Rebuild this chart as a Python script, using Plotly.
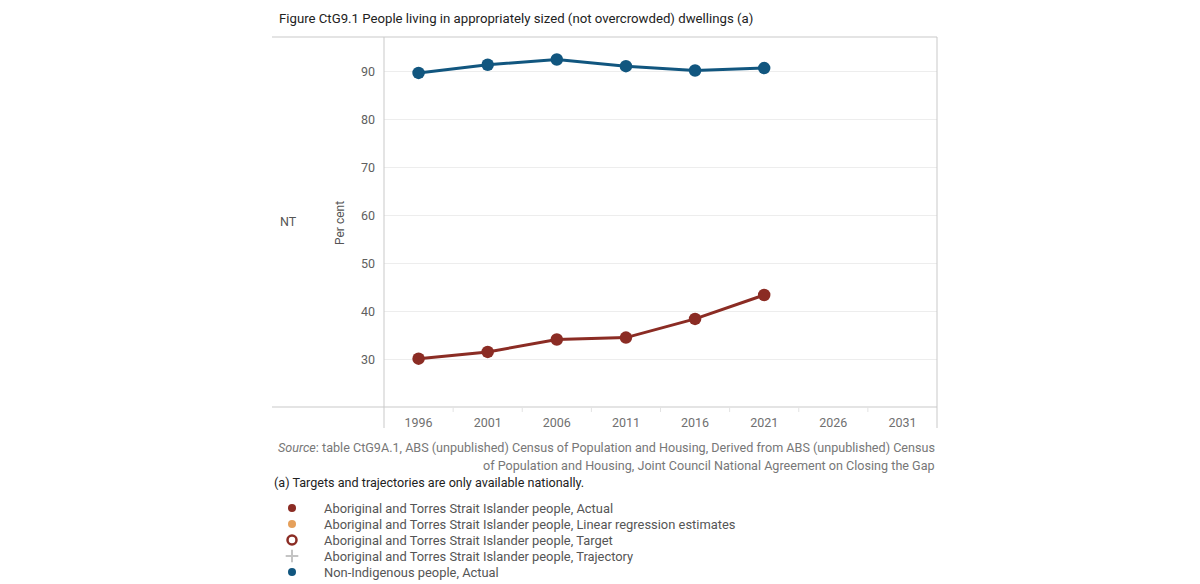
import plotly.graph_objects as go

# ---------------- data ----------------
years = [1996, 2001, 2006, 2011, 2016, 2021]
indigenous_actual = [30.1, 31.5, 34.1, 34.5, 38.4, 43.4]
non_indigenous_actual = [89.8, 91.5, 92.6, 91.2, 90.3, 90.8]
x_tick_years = [1996, 2001, 2006, 2011, 2016, 2021, 2026, 2031]
y_tick_values = [30, 40, 50, 60, 70, 80, 90]

legend_labels = [
    "Aboriginal and Torres Strait Islander people, Actual",
    "Aboriginal and Torres Strait Islander people, Linear regression estimates",
    "Aboriginal and Torres Strait Islander people, Target",
    "Aboriginal and Torres Strait Islander people, Trajectory",
    "Non-Indigenous people, Actual",
]

title_text = "Figure CtG9.1 People living in appropriately sized (not overcrowded) dwellings (a)"
source_line1 = "<i>Source</i>: table CtG9A.1, ABS (unpublished) Census of Population and Housing, Derived from ABS (unpublished) Census"
source_line2 = "of Population and Housing, Joint Council National Agreement on Closing the Gap"
note_text = "(a) Targets and trajectories are only available nationally."

# ---------------- styles ----------------
RED = "#8b2c24"
BLUE = "#11567f"
ORANGE = "#e5a05b"
GREY_PLUS = "#c4c4c4"
AXIS = "#c9c9c9"
GRID = "#ededed"
FONT = "Roboto"

legend_colors = [RED, ORANGE, RED, GREY_PLUS, BLUE]
legend_symbols = ["circle", "circle", "circle-open", "cross-thin", "circle"]

W, H = 1200, 584
def px(x):
    return x / W
def py(y):
    return (H - y) / H

left, right, top, bottom = 384, 937, 37, 407

fig = go.Figure()

fig.add_trace(go.Scatter(
    x=years, y=non_indigenous_actual, mode="lines+markers",
    line=dict(color=BLUE, width=3), marker=dict(color=BLUE, size=12.5),
    name="Non-Indigenous people, Actual", showlegend=False,
    xaxis="x", yaxis="y"))
fig.add_trace(go.Scatter(
    x=years, y=indigenous_actual, mode="lines+markers",
    line=dict(color=RED, width=3), marker=dict(color=RED, size=12.5),
    name="Aboriginal and Torres Strait Islander people, Actual", showlegend=False,
    xaxis="x", yaxis="y"))

# custom legend on a helper axis (rows = legend entries)
rows = list(range(len(legend_labels)))
for i, (lab, col, sym) in enumerate(zip(legend_labels, legend_colors, legend_symbols)):
    if sym == "circle-open":
        mk = dict(color=col, size=9, symbol=sym, line=dict(color=col, width=2.5))
    elif sym == "cross-thin":
        mk = dict(color=col, size=9, symbol=sym, line=dict(color=col, width=2))
    else:
        mk = dict(color=col, size=8, symbol=sym)
    fig.add_trace(go.Scatter(
        x=[0], y=[rows[i]], mode="markers", marker=mk, showlegend=False,
        cliponaxis=False, hoverinfo="skip", xaxis="x2", yaxis="y2"))
    fig.add_annotation(
        x=0, y=rows[i], xref="x2", yref="y2", text=lab, showarrow=False,
        xanchor="left", yanchor="middle", xshift=30,
        font=dict(family=FONT, size=12.9, color="#555555"))

# frame lines
shapes = [
    dict(type="line", xref="paper", yref="paper", x0=px(272), x1=px(right), y0=py(top), y1=py(top)),
    dict(type="line", xref="paper", yref="paper", x0=px(272), x1=px(right), y0=py(bottom), y1=py(bottom)),
    dict(type="line", xref="paper", yref="paper", x0=px(left), x1=px(left), y0=py(top), y1=py(428)),
    dict(type="line", xref="paper", yref="paper", x0=px(right), x1=px(right), y0=py(top), y1=py(428)),
]
for s in shapes:
    s["line"] = dict(color=AXIS, width=1)
# small dividers between year headers
for a, b in zip(x_tick_years[:-1], x_tick_years[1:]):
    shapes.append(dict(type="line", xref="x", yref="paper", x0=(a + b) / 2, x1=(a + b) / 2,
                       y0=py(bottom), y1=py(bottom + 5), line=dict(color="#e3e3e3", width=1)))

fig.update_layout(
    width=W, height=H, margin=dict(l=0, r=0, t=0, b=0),
    paper_bgcolor="white", plot_bgcolor="white", showlegend=False,
    shapes=shapes,
    xaxis=dict(domain=[px(left), px(right)], range=[1993.5, 2033.5],
               tickvals=x_tick_years, ticktext=[str(v) for v in x_tick_years],
               showgrid=False, zeroline=False, showline=False, ticks="",
               ticklabelstandoff=6,
               tickfont=dict(family=FONT, size=12.5, color="#707070"),
               fixedrange=True),
    yaxis=dict(domain=[py(bottom), py(top)], range=[20, 97.3],
               tickvals=y_tick_values, showgrid=True, gridcolor=GRID, gridwidth=1,
               zeroline=False, showline=False, ticks="", ticklabelstandoff=8,
               tickfont=dict(family=FONT, size=12.5, color="#606060"),
               fixedrange=True),
    xaxis2=dict(domain=[px(282), px(302)], range=[-1, 1], visible=False,
                fixedrange=True),
    yaxis2=dict(domain=[py(580), py(500)], range=[4.5, -0.5], visible=False,
                fixedrange=True, anchor="x2"),
)

# texts
fig.add_annotation(x=px(277), y=py(19), xref="paper", yref="paper", text=title_text,
                   showarrow=False, xanchor="left", yanchor="middle",
                   font=dict(family=FONT, size=13.2, color="#222222"))
fig.add_annotation(x=px(278), y=py(221), xref="paper", yref="paper", text="NT",
                   showarrow=False, xanchor="left", yanchor="middle",
                   font=dict(family=FONT, size=12.5, color="#555555"))
fig.add_annotation(x=px(340), y=py(223), xref="paper", yref="paper", text="Per cent",
                   showarrow=False, textangle=-90, xanchor="center", yanchor="middle",
                   font=dict(family=FONT, size=12, color="#555555"))
fig.add_annotation(x=px(right), y=py(447), xref="paper", yref="paper", text=source_line1,
                   showarrow=False, xanchor="right", yanchor="middle",
                   font=dict(family=FONT, size=12.6, color="#777777"))
fig.add_annotation(x=px(right), y=py(465), xref="paper", yref="paper", text=source_line2,
                   showarrow=False, xanchor="right", yanchor="middle",
                   font=dict(family=FONT, size=12.6, color="#777777"))
fig.add_annotation(x=px(272), y=py(482), xref="paper", yref="paper", text=note_text,
                   showarrow=False, xanchor="left", yanchor="middle",
                   font=dict(family=FONT, size=12.6, color="#222222"))

fig.write_html("out.html", config={"displayModeBar": False},
               post_script="document.body.style.margin='0';document.body.style.overflow='hidden';")
